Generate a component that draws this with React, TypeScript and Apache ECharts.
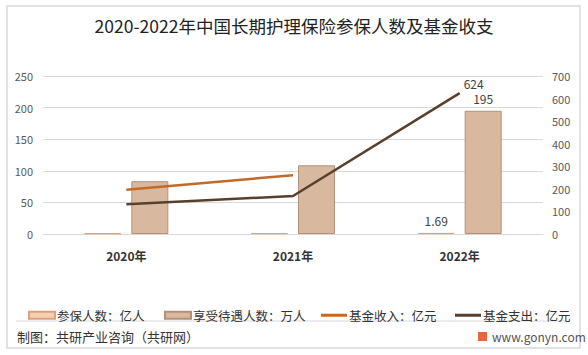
import React, { useEffect, useRef } from "react";
import * as echarts from "echarts";

const categories = ["2020年", "2021年", "2022年"];
const insuredPeople = [1.08, 1.45, 1.69]; // 参保人数：亿人
const beneficiaries = [83.5, 108.7, 195]; // 享受待遇人数：万人
const fundIncome = [196.1, 260.6, null]; // 基金收入：亿元
const fundExpense = [131.4, 168.4, 624]; // 基金支出：亿元
const leftTicks = { min: 0, max: 250, interval: 50 };
const rightTicks = { min: 0, max: 700, interval: 100 };

const names = ["参保人数：亿人", "享受待遇人数：万人", "基金收入：亿元", "基金支出：亿元"];
const FONT = "'Noto Sans CJK SC', 'Noto Sans', sans-serif";

export default function App() {
  const ref = useRef<HTMLDivElement>(null);
  useEffect(() => {
    if (!ref.current) return;
    const chart = echarts.init(ref.current, null, { renderer: "svg" });
    const lastLabel = (i: number) => ({
      show: i === categories.length - 1,
      position: "top",
      distance: 6,
      color: "#404040",
      fontSize: 12,
      fontFamily: FONT,
    });
    const legendBase = {
      top: 304,
      itemHeight: 7,
      itemWidth: 26,
      itemGap: 10,
      textStyle: { fontSize: 12.5, color: "#333", fontFamily: FONT, padding: [0, 0, 0, -3] },
    };
    chart.setOption({
      animation: false,
      backgroundColor: "#fff",
      title: {
        text: "2020-2022年中国长期护理保险参保人数及基金收支",
        left: "center",
        top: 12,
        textStyle: { fontSize: 17.5, fontWeight: "normal", color: "#222", fontFamily: FONT },
      },
      legend: [
        { ...legendBase, left: 23, data: [{ name: names[0], icon: "rect" }] },
        { ...legendBase, left: 159, data: [{ name: names[1], icon: "rect" }] },
        { ...legendBase, left: 316, data: [{ name: names[2], icon: "rect" }], itemHeight: 3 },
        { ...legendBase, left: 450, data: [{ name: names[3], icon: "rect" }], itemHeight: 3 },
      ],
      grid: { left: 43, right: 45, top: 76, bottom: 121 },
      xAxis: {
        type: "category",
        data: categories,
        axisLine: { lineStyle: { color: "#d9d9d9" } },
        axisTick: { show: false },
        axisLabel: { fontSize: 12, fontWeight: "bold", color: "#333", margin: 15, fontFamily: FONT },
      },
      yAxis: [
        {
          type: "value",
          ...leftTicks,
          axisLine: { show: false },
          axisTick: { show: false },
          splitLine: { lineStyle: { color: "#d9d9d9" } },
          axisLabel: { fontSize: 11, color: "#595959", margin: 10, fontFamily: FONT },
        },
        {
          type: "value",
          ...rightTicks,
          position: "right",
          axisLine: { show: false },
          axisTick: { show: false },
          splitLine: { show: false },
          axisLabel: { fontSize: 11, color: "#595959", margin: 9, fontFamily: FONT },
        },
      ],
      series: [
        {
          name: names[0],
          type: "bar",
          yAxisIndex: 0,
          barWidth: 37,
          barGap: "27%",
          itemStyle: { color: "#f5cfb2", borderColor: "#d9a27c", borderWidth: 1 },
          data: insuredPeople.map((v, i) => ({ value: v, label: lastLabel(i) })),
        },
        {
          name: names[1],
          type: "bar",
          yAxisIndex: 0,
          barWidth: 37,
          itemStyle: { color: "#d8b9a0", borderColor: "#b39079", borderWidth: 1 },
          data: beneficiaries.map((v, i) => ({ value: v, label: lastLabel(i) })),
        },
        {
          name: names[2],
          type: "line",
          yAxisIndex: 1,
          symbol: "circle",
          symbolSize: 0,
          lineStyle: { color: "#c46a28", width: 2.5 },
          itemStyle: { color: "#c46a28" },
          data: fundIncome,
        },
        {
          name: names[3],
          type: "line",
          yAxisIndex: 1,
          symbol: "circle",
          symbolSize: 0,
          lineStyle: { color: "#59402d", width: 2.5 },
          itemStyle: { color: "#59402d" },
          data: fundExpense.map((v, i) => ({
            value: v,
            label: { ...lastLabel(i), distance: 4, offset: [14, 0] },
          })),
        },
      ],
      graphic: [
        {
          type: "rect",
          shape: { x: 7, y: 6, width: 573, height: 342 },
          style: { fill: "none", stroke: "#d9d9d9", lineWidth: 1.5 },
          silent: true,
        },
        {
          type: "line",
          shape: { x1: 16, y1: 321, x2: 566, y2: 321 },
          style: { stroke: "#d9d9d9", lineWidth: 1 },
          silent: true,
        },
        {
          type: "text",
          left: 17,
          top: 330,
          style: { text: "制图：共研产业咨询（共研网）", fontSize: 13, fill: "#333", fontFamily: FONT },
        },
        {
          type: "rect",
          shape: { x: 478, y: 332, width: 9, height: 9 },
          style: { fill: "#e8663a" },
        },
        {
          type: "text",
          left: 492,
          top: 330,
          style: { text: "www.gonyn.com", fontSize: 12, fill: "#555", fontFamily: FONT },
        },
      ],
    });
    return () => chart.dispose();
  }, []);
  return (
    <div
      ref={ref}
      style={{ position: "fixed", left: 0, top: 0, width: 588, height: 355 }}
    />
  );
}
